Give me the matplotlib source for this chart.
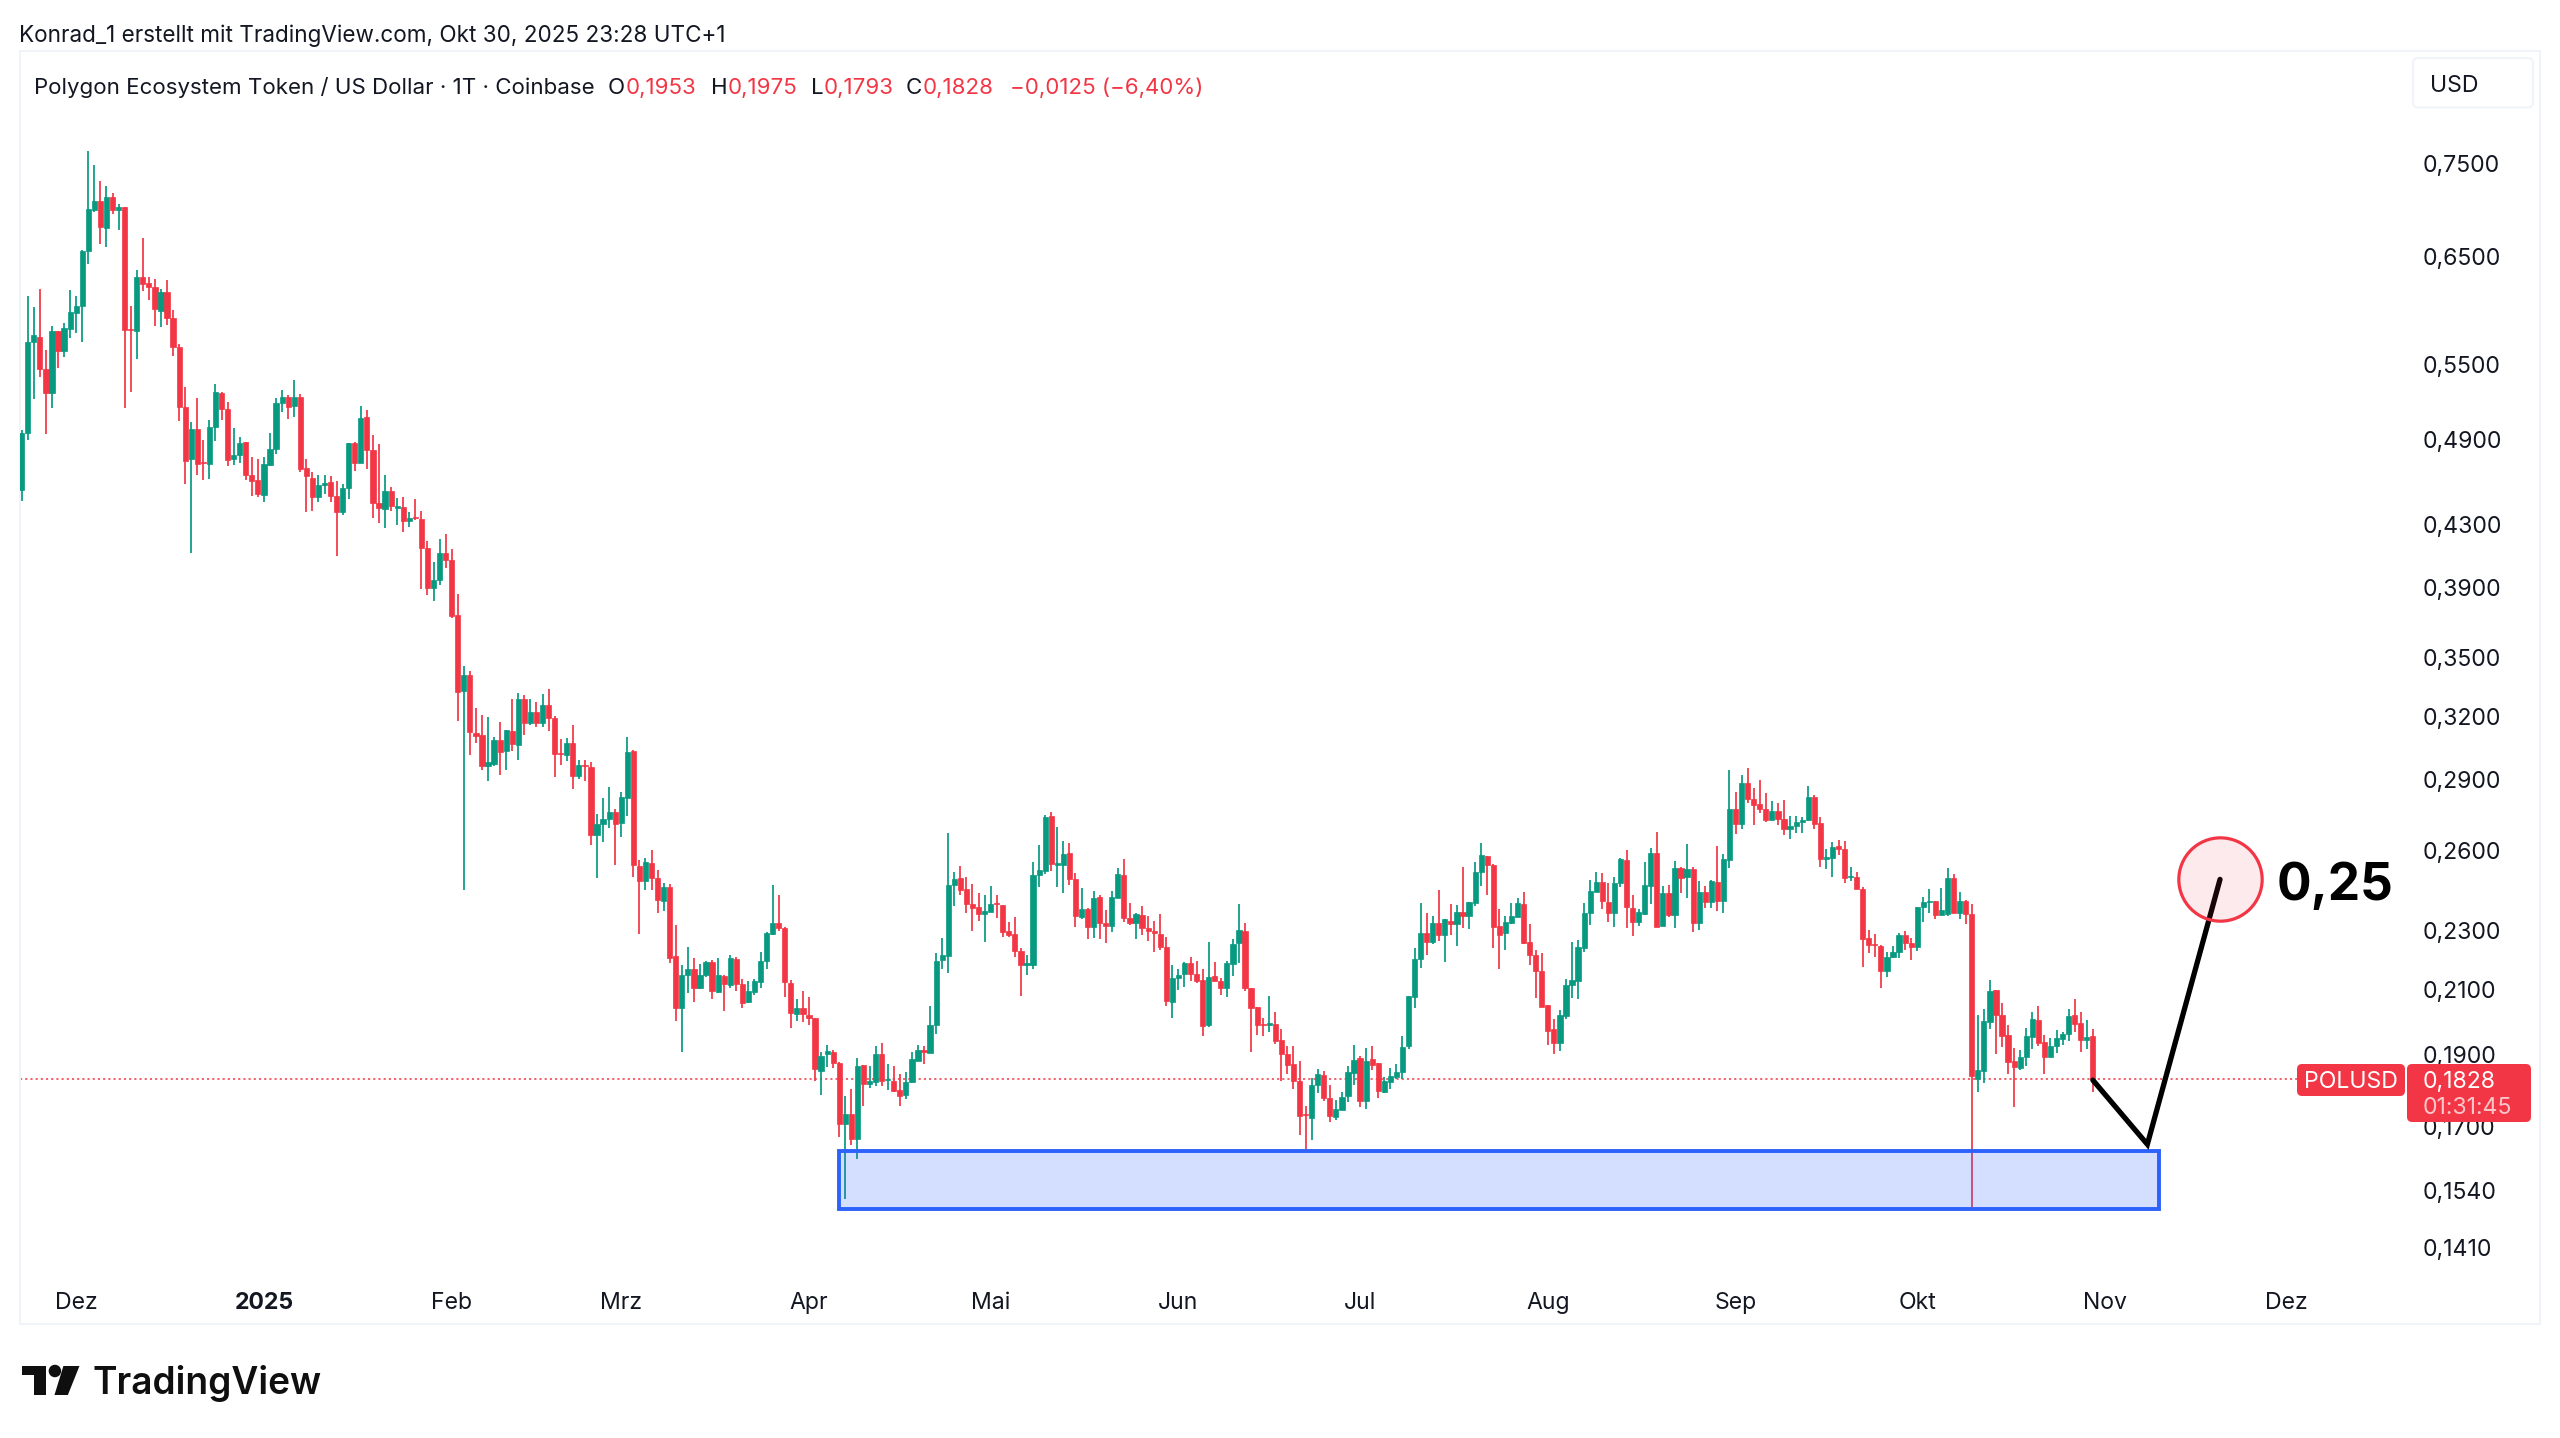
import numpy as np
import pandas as pd
import matplotlib
matplotlib.use("Agg")
import matplotlib.pyplot as plt
from matplotlib.patches import FancyBboxPatch, Rectangle, Polygon, Ellipse
from matplotlib.ticker import NullLocator

plt.rcParams['font.family'] = ['Inter', 'DejaVu Sans']

START_DATE = "2024-11-22"

opens = [
.4532,.4948,.5696,.5740,.5459,.5264,.5796,.5620,.5811,.5955,
.6017,.6557,.6981,.7081,.6786,.7125,.6977,.7010,.5811,.5796,
.6297,.6233,.6198,.5977,.6151,.5913,.5655,.5153,.4753,.4983,
.4734,.4722,.4996,.5266,.5139,.4753,.4783,.4880,.4643,.4602,
.4500,.4712,.4832,.5181,.5228,.5158,.5236,.4688,.4621,.4486,
.4567,.4588,.4491,.4384,.4549,.4872,.4727,.5071,.4819,.4443,
.4402,.4523,.4411,.4418,.4324,.4348,.4335,.4145,.3898,.3946,
.4114,.4069,.3740,.3324,.3410,.3119,.3107,.2961,.2971,.3085,
.3034,.3125,.3062,.3284,.3168,.3222,.3168,.3255,.3191,.3022,
.3012,.3072,.2918,.2969,.2959,.2663,.2710,.2732,.2762,.2713,
.2820,.3033,.2540,.2481,.2552,.2492,.2407,.2458,.2210,.2040,
.2147,.2166,.2104,.2147,.2190,.2090,.2145,.2113,.2201,.2119,
.2060,.2090,.2124,.2193,.2287,.2325,.2309,.2121,.2023,.2042,
.2020,.2008,.1851,.1900,.1908,.1874,.1707,.1734,.1668,.1868,
.1816,.1822,.1901,.1825,.1824,.1798,.1785,.1820,.1881,.1912,
.1903,.1987,.2198,.2210,.2465,.2495,.2451,.2395,.2385,.2359,
.2366,.2399,.2393,.2296,.2286,.2229,.2182,.2182,.2504,.2521,
.2742,.2545,.2545,.2591,.2491,.2347,.2377,.2311,.2421,.2325,
.2315,.2418,.2506,.2346,.2325,.2354,.2309,.2296,.2286,.2242,
.2059,.2138,.2149,.2186,.2151,.2130,.1987,.2144,.2127,.2104,
.2185,.2254,.2299,.2105,.2043,.1991,.1987,.1992,.1943,.1900,
.1873,.1824,.1733,.1722,.1812,.1840,.1776,.1726,.1744,.1783,
.1847,.1888,.1768,.1886,.1874,.1794,.1821,.1835,.1850,.1925,
.2077,.2200,.2291,.2260,.2326,.2285,.2333,.2321,.2367,.2352,
.2400,.2515,.2579,.2543,.2314,.2289,.2326,.2349,.2395,.2259,
.2215,.2161,.2049,.1975,.1933,.2016,.2114,.2129,.2238,.2362,
.2439,.2477,.2403,.2362,.2474,.2564,.2381,.2329,.2360,.2464,
.2591,.2315,.2438,.2356,.2531,.2496,.2527,.2326,.2440,.2401,
.2479,.2407,.2563,.2772,.2708,.2885,.2817,.2793,.2775,.2725,
.2763,.2731,.2689,.2702,.2716,.2725,.2826,.2712,.2568,.2570,
.2619,.2606,.2496,.2498,.2450,.2272,.2252,.2246,.2161,.2209,
.2225,.2283,.2255,.2243,.2383,.2402,.2407,.2356,.2360,.2494,
.2364,.2407,.2360,.1828,.1853,.1996,.2098,.2020,.1957,.1881,
.1861,.1892,.1950,.2004,.1936,.1892,.1924,.1946,.1960,.2020,
.1994,.1942,.1953]

closes = [
.4948,.5696,.5755,.5459,.5264,.5796,.5620,.5820,.5967,.6020,
.6557,.6992,.7081,.6797,.7125,.6977,.7010,.5802,.5802,.6297,
.6230,.6201,.5989,.6151,.5913,.5652,.5151,.4741,.4983,.4722,
.4727,.4998,.5274,.5136,.4749,.4785,.4872,.4638,.4597,.4505,
.4717,.4832,.5184,.5228,.5153,.5236,.4686,.4633,.4486,.4570,
.4586,.4493,.4384,.4549,.4872,.4727,.5066,.4819,.4443,.4411,
.4523,.4420,.4420,.4322,.4342,.4339,.4147,.3897,.3946,.4114,
.4069,.3734,.3323,.3410,.3122,.3104,.2964,.2982,.3085,.3029,
.3131,.3065,.3284,.3168,.3222,.3168,.3255,.3188,.3016,.3018,
.3072,.2918,.2969,.2964,.2663,.2711,.2731,.2762,.2711,.2824,
.3027,.2542,.2483,.2554,.2492,.2409,.2458,.2205,.2040,.2147,
.2168,.2105,.2147,.2190,.2096,.2147,.2119,.2204,.2119,.2058,
.2096,.2126,.2194,.2290,.2325,.2307,.2124,.2024,.2042,.2023,
.2009,.1857,.1896,.1910,.1875,.1707,.1734,.1668,.1867,.1814,
.1823,.1901,.1823,.1829,.1797,.1783,.1821,.1886,.1912,.1908,
.1989,.2195,.2215,.2467,.2490,.2449,.2396,.2381,.2358,.2371,
.2395,.2394,.2295,.2283,.2229,.2179,.2187,.2505,.2524,.2738,
.2546,.2550,.2587,.2491,.2352,.2377,.2311,.2417,.2325,.2315,
.2421,.2509,.2345,.2325,.2358,.2309,.2296,.2289,.2242,.2062,
.2138,.2148,.2186,.2151,.2129,.1985,.2142,.2129,.2105,.2186,
.2253,.2303,.2104,.2041,.1988,.1988,.1994,.1940,.1900,.1870,
.1824,.1727,.1731,.1813,.1842,.1776,.1729,.1747,.1779,.1848,
.1883,.1768,.1880,.1869,.1796,.1823,.1837,.1848,.1923,.2078,
.2201,.2291,.2258,.2326,.2285,.2339,.2321,.2366,.2352,.2403,
.2518,.2583,.2543,.2311,.2285,.2329,.2350,.2399,.2256,.2214,
.2162,.2044,.1971,.1935,.2018,.2115,.2130,.2241,.2363,.2442,
.2478,.2405,.2362,.2474,.2568,.2383,.2331,.2367,.2467,.2591,
.2312,.2438,.2355,.2531,.2493,.2527,.2328,.2440,.2403,.2480,
.2408,.2567,.2772,.2711,.2885,.2816,.2791,.2774,.2727,.2763,
.2731,.2689,.2703,.2719,.2727,.2826,.2710,.2568,.2574,.2617,
.2606,.2493,.2501,.2450,.2271,.2249,.2248,.2161,.2209,.2225,
.2283,.2254,.2243,.2384,.2402,.2408,.2356,.2372,.2494,.2364,
.2408,.2360,.1837,.1854,.1999,.2096,.2018,.1953,.1877,.1862,
.1893,.1953,.2006,.1934,.1892,.1926,.1948,.1960,.2017,.1990,
.1942,.1951,.1828]

highs = [
.4970,.6116,.6010,.6184,.5625,.5835,.5796,.5864,.6169,.6116,
.6560,.7646,.7485,.7303,.7247,.7166,.7049,.7010,.6020,.6362,
.6683,.6297,.6278,.6184,.6262,.5983,.5679,.5315,.5035,.5223,
.4900,.5052,.5337,.5274,.5191,.4991,.4920,.4885,.4773,.4753,
.4773,.4950,.5220,.5289,.5252,.5375,.5258,.4753,.4664,.4643,
.4638,.4631,.4595,.4574,.4877,.4885,.5161,.5125,.4937,.4870,
.4643,.4551,.4477,.4488,.4379,.4470,.4390,.4190,.4057,.4203,
.4235,.4139,.3862,.3457,.3429,.3242,.3204,.3194,.3096,.3170,
.3131,.3287,.3318,.3308,.3287,.3268,.3312,.3336,.3198,.3088,
.3093,.3157,.2989,.2992,.2979,.2752,.2820,.2869,.2771,.2848,
.3097,.3037,.2562,.2572,.2604,.2525,.2475,.2471,.2319,.2180,
.2243,.2203,.2183,.2194,.2196,.2203,.2147,.2213,.2209,.2134,
.2129,.2134,.2223,.2295,.2468,.2427,.2311,.2130,.2068,.2096,
.2076,.2009,.1908,.1929,.1912,.1879,.1783,.1801,.1888,.1868,
.1867,.1925,.1933,.1871,.1867,.1843,.1848,.1907,.1927,.1925,
.2047,.2221,.2273,.2671,.2516,.2538,.2498,.2470,.2437,.2430,
.2463,.2430,.2393,.2330,.2347,.2238,.2215,.2554,.2625,.2748,
.2762,.2697,.2640,.2633,.2512,.2455,.2381,.2444,.2429,.2374,
.2444,.2532,.2568,.2399,.2361,.2387,.2350,.2333,.2358,.2277,
.2179,.2167,.2191,.2208,.2195,.2167,.2259,.2189,.2138,.2193,
.2270,.2395,.2326,.2105,.2045,.2011,.2078,.2027,.1975,.1924,
.1924,.1882,.1754,.1831,.1857,.1851,.1811,.1770,.1792,.1867,
.1929,.1894,.1919,.1924,.1874,.1834,.1861,.1871,.1955,.2080,
.2237,.2399,.2361,.2351,.2448,.2340,.2396,.2391,.2535,.2404,
.2556,.2633,.2580,.2546,.2378,.2350,.2399,.2418,.2441,.2322,
.2231,.2221,.2049,.2006,.2033,.2133,.2258,.2265,.2399,.2486,
.2516,.2512,.2474,.2498,.2572,.2605,.2428,.2378,.2554,.2610,
.2675,.2463,.2467,.2561,.2535,.2627,.2537,.2480,.2463,.2484,
.2619,.2589,.2947,.2847,.2921,.2956,.2863,.2901,.2842,.2807,
.2797,.2813,.2743,.2744,.2737,.2872,.2835,.2737,.2606,.2635,
.2644,.2640,.2537,.2516,.2458,.2302,.2286,.2249,.2226,.2246,
.2290,.2296,.2274,.2386,.2420,.2450,.2408,.2454,.2531,.2508,
.2439,.2410,.2397,.2020,.2038,.2131,.2098,.2056,.1988,.1919,
.1912,.1979,.2028,.2046,.1957,.1949,.1973,.1968,.2037,.2068,
.2028,.2003,.1975]

lows = [
.4459,.4897,.5218,.5395,.4945,.5144,.5467,.5561,.5728,.5776,
.5693,.6420,.6963,.6622,.6591,.6934,.6766,.5144,.5271,.5546,
.6158,.6076,.5835,.5826,.5844,.5576,.5040,.4579,.4112,.4638,
.4604,.4611,.4890,.5047,.4705,.4715,.4724,.4604,.4493,.4486,
.4447,.4707,.4790,.5112,.5061,.5076,.4664,.4384,.4390,.4447,
.4505,.4447,.4095,.4363,.4468,.4671,.4727,.4686,.4339,.4308,
.4277,.4390,.4294,.4251,.4284,.4331,.3892,.3858,.3821,.3915,
.4020,.3723,.3178,.2447,.3015,.3069,.2943,.2895,.2961,.2922,
.2943,.3034,.2990,.3108,.3154,.3146,.3146,.3125,.2913,.2969,
.2986,.2858,.2903,.2895,.2623,.2493,.2635,.2694,.2545,.2655,
.2745,.2498,.2287,.2447,.2447,.2363,.2370,.2187,.2001,.1908,
.2088,.2061,.2102,.2139,.2069,.2089,.2030,.2104,.2094,.2040,
.2057,.2081,.2104,.2167,.2284,.2296,.2074,.1979,.2001,.1997,
.1989,.1823,.1785,.1864,.1861,.1672,.1521,.1653,.1617,.1754,
.1803,.1809,.1809,.1799,.1794,.1754,.1774,.1818,.1881,.1871,
.1903,.1962,.2168,.2153,.2387,.2428,.2361,.2297,.2332,.2258,
.2365,.2345,.2275,.2275,.2207,.2079,.2146,.2168,.2460,.2507,
.2522,.2460,.2435,.2468,.2311,.2340,.2269,.2272,.2268,.2255,
.2293,.2418,.2331,.2319,.2269,.2283,.2262,.2226,.2233,.2047,
.2008,.2098,.2109,.2129,.2120,.1953,.1982,.2127,.2081,.2077,
.2144,.2188,.2094,.1908,.1958,.1954,.1968,.1930,.1824,.1843,
.1800,.1677,.1641,.1665,.1791,.1769,.1712,.1717,.1743,.1765,
.1811,.1753,.1747,.1856,.1776,.1789,.1800,.1829,.1829,.1917,
.2041,.2171,.2213,.2251,.2263,.2190,.2284,.2244,.2310,.2304,
.2387,.2464,.2428,.2240,.2168,.2232,.2322,.2349,.2253,.2179,
.2073,.2044,.1928,.1902,.1911,.2006,.2071,.2068,.2226,.2318,
.2439,.2376,.2331,.2312,.2458,.2308,.2279,.2315,.2356,.2394,
.2312,.2315,.2348,.2308,.2438,.2419,.2294,.2300,.2382,.2380,
.2368,.2364,.2532,.2667,.2688,.2800,.2706,.2757,.2720,.2725,
.2707,.2664,.2649,.2673,.2673,.2723,.2687,.2536,.2528,.2496,
.2583,.2474,.2480,.2450,.2173,.2222,.2207,.2105,.2142,.2203,
.2205,.2230,.2199,.2228,.2330,.2364,.2342,.2355,.2353,.2361,
.2342,.2324,.1501,.1794,.1818,.1976,.1900,.1922,.1842,.1753,
.1854,.1866,.1916,.1926,.1842,.1892,.1904,.1929,.1939,.1967,
.1907,.1916,.1793]

price_ticks = [0.75, 0.65, 0.55, 0.49, 0.43, 0.39, 0.35, 0.32, 0.29, 0.26, 0.23, 0.21, 0.19, 0.17, 0.154, 0.141]
price_labels = ["0,7500", "0,6500", "0,5500", "0,4900", "0,4300", "0,3900", "0,3500", "0,3200",
                "0,2900", "0,2600", "0,2300", "0,2100", "0,1900", "0,1700", "0,1540", "0,1410"]
month_dates = ["2024-12-01", "2025-01-01", "2025-02-01", "2025-03-01", "2025-04-01", "2025-05-01", "2025-06-01",
               "2025-07-01", "2025-08-01", "2025-09-01", "2025-10-01", "2025-11-01", "2025-12-01"]
month_labels = ["Dez", "2025", "Feb", "Mrz", "Apr", "Mai", "Jun", "Jul", "Aug", "Sep", "Okt", "Nov", "Dez"]

last_close = 0.1828
zone_dates = ["2025-04-06", "2025-11-10"]   # support zone, time span
zone_prices = [0.1498, 0.1638]
path_dates = ["2025-10-30", "2025-11-08", "2025-11-20"]
path_prices = [0.1826, 0.1654, 0.2488]
target_label = "0,25"

GREEN = "#089981"
RED = "#F23645"
INK = "#131722"
BORDER = "#F0F3FA"

W, H = 2560, 1438
fig = plt.figure(figsize=(W / 100, H / 100), dpi=100, facecolor="white")

def fx(px): return px / W
def fy(py): return 1 - py / H

L, R, T, B = 20, 2540, 51, 1324
ax = fig.add_axes([fx(L), fy(B), fx(R - L), (B - T) / H])
ax.set_facecolor("white")

start = pd.Timestamp(START_DATE)
def day(d): return (pd.Timestamp(d) - start).days

o, c, h, l = map(np.array, (opens, closes, highs, lows))
x = np.arange(len(o))
colors = np.where(c >= o, GREEN, RED)

ax.set_yscale("log")
ax.set_xlim((L - 21.7) / 6.056, (R - 21.7) / 6.056)
ax.set_ylim(0.1254, 0.8917)

ax.axhline(last_close, xmin=0, xmax=(2297 - L) / (R - L), color=RED, lw=1.1,
           linestyle=(0, (1.4, 2.0)), zorder=1)
ax.vlines(x, l, h, colors=colors, lw=1.25, zorder=2)
ax.bar(x, np.abs(c - o), bottom=np.minimum(o, c), width=0.86, color=colors, edgecolor=colors, linewidth=0.5, zorder=3)

# support zone
zx0, zx1 = day(zone_dates[0]), day(zone_dates[1]) - 0.1
ax.add_patch(Rectangle((zx0, zone_prices[0]), zx1 - zx0, zone_prices[1] - zone_prices[0],
                       facecolor=(41/255, 98/255, 1, 0.2), edgecolor="none", zorder=4))
ax.add_patch(Rectangle((zx0, zone_prices[0]), zx1 - zx0, zone_prices[1] - zone_prices[0],
                       facecolor="none", edgecolor="#2C62FA", lw=2.8, zorder=4))

# projected path and target
px = [day(d) for d in path_dates]
ax.plot(px, path_prices, color="black", lw=3.8, solid_capstyle="round", solid_joinstyle="miter", zorder=5)
ax.scatter([px[2]], [path_prices[2]], s=3600, facecolor=(242/255, 54/255, 69/255, 0.1),
           edgecolor=RED, linewidth=2.3, zorder=6)
ax.text(day("2025-11-20") + 9.3, 0.2462, target_label, fontsize=37, fontweight="bold", color="black",
        ha="left", va="center", zorder=7)

# axes
ax.set_yticks(price_ticks)
ax.set_yticklabels(price_labels)
ax.yaxis.set_minor_locator(NullLocator())
ax.tick_params(axis="y", which="both", right=True, left=False, labelright=True, labelleft=False,
               length=0, pad=-84.3, labelsize=16.6, labelcolor=INK)
ax.set_xticks([day(d) for d in month_dates])
ax.set_xticklabels(month_labels)
ax.tick_params(axis="x", length=0, pad=-23, labelsize=16.6, labelcolor=INK)
for lab, txt in zip(ax.get_xticklabels(), month_labels):
    if txt == "2025":
        lab.set_fontweight("bold")
for s in ax.spines.values():
    s.set_color(BORDER)
    s.set_linewidth(1.4)

# overlay helpers in figure pixels
def box(x0, y0, x1, y1, **kw):
    p = FancyBboxPatch((fx(x0), fy(y1)), fx(x1 - x0), (y1 - y0) / H, transform=fig.transFigure,
                       boxstyle="round,pad=0,rounding_size=0.002", clip_on=False,
                       mutation_aspect=W / H, **kw)
    ax.add_patch(p)

def t(px_, py_, s, **kw):
    kw.setdefault("color", INK)
    kw.setdefault("fontsize", 16.2)
    kw.setdefault("va", "center")
    kw.setdefault("ha", "left")
    ax.text(fx(px_), fy(py_ + 2.5), s, transform=fig.transFigure, clip_on=False, **kw)

# price labels on axis
box(2297, 1064, 2405, 1096, facecolor=RED, edgecolor="none", zorder=8)
box(2407, 1064, 2531, 1122, facecolor=RED, edgecolor="none", zorder=8)
t(2351, 1080, "POLUSD", color="white", ha="center", fontsize=16.6, zorder=9)
t(2423, 1079, "0,1828", color="white", fontsize=16.6, zorder=9)
t(2423, 1105, "01:31:45", color=(1, 1, 1, 0.72), fontsize=16.6, zorder=9)

# USD button
box(2413, 58, 2533, 107.5, facecolor="white", edgecolor=BORDER, linewidth=1.4, zorder=8)
t(2430, 83, "USD", fontsize=16.6, zorder=9)

# headers
t(19, 33, "Konrad_1 erstellt mit TradingView.com, Okt 30, 2025 23:28 UTC+1", zorder=9)
t(34, 85, "Polygon Ecosystem Token / US Dollar · 1T · Coinbase", fontsize=16.05, zorder=9)
for xp, s, col in [(608, "O", INK), (626, "0,1953", RED), (711, "H", INK), (728, "0,1975", RED),
                   (811, "L", INK), (823.5, "0,1793", RED), (906, "C", INK), (923, "0,1828", RED),
                   (1010, "−0,0125 (−6,40%)", RED)]:
    t(xp, 85, s, color=col, fontsize=16.05, zorder=9)

# TradingView mark
def zx(v): return v / 2.24
def zy(v): return 1260 + v / 3
logo = "#0F0F0F"
def fig_poly(pts):
    ax.add_patch(Polygon([(fx(zx(a)), fy(zy(b))) for a, b in pts], closed=True, transform=fig.transFigure,
                         facecolor=logo, edgecolor="none", clip_on=False, zorder=9))
fig_poly([(50, 318), (103, 318), (103, 405), (77, 405), (77, 345), (50, 345)])
fig_poly([(142, 318), (178, 318), (152, 405), (122, 405)])
ax.add_patch(Ellipse((fx(zx(123)), fy(zy(333))), 12.5 / W, 12.5 / H, transform=fig.transFigure,
                     facecolor=logo, edgecolor="none", clip_on=False, zorder=9))
t(92, 1381, "TradingView", color=logo, fontsize=26.7, fontweight="semibold", zorder=9)

fig.savefig("out.png", dpi=100, facecolor="white")
